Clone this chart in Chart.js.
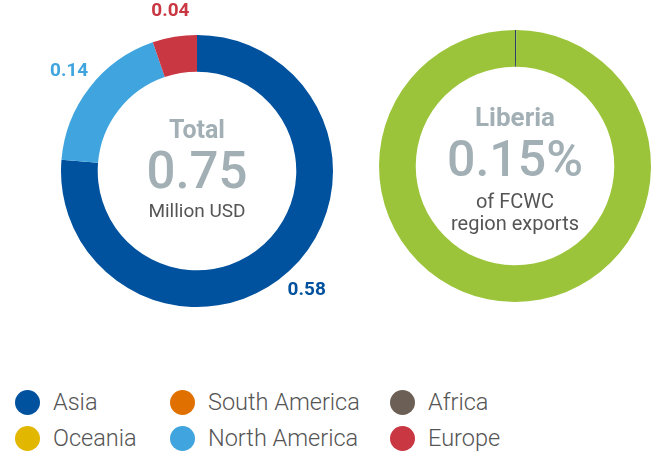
<!DOCTYPE html>
<html>
<head>
<meta charset="utf-8">
<script src="https://cdn.jsdelivr.net/npm/chart.js@4/dist/chart.umd.min.js"></script>
<style>
  html, body { margin: 0; padding: 0; background: #fff; }
  body { width: 652px; height: 454px; position: relative; overflow: hidden; font-family: Roboto, "Liberation Sans", sans-serif; }
  #left { position: absolute; left: 27px; top: 1px; }
  #right { position: absolute; left: 365px; top: 16px; }
  .lg { position: absolute; font-size: 23.5px; font-weight: 300; color: #555; line-height: 1; white-space: nowrap; }
  .lg i { position: absolute; left: -38px; top: -1px; width: 25px; height: 25px; border-radius: 50%; }
</style>
</head>
<body>
<canvas id="left" width="340" height="340"></canvas>
<canvas id="right" width="300" height="300"></canvas>
<div id="legend"></div>
<script>
"use strict";

// left donut: exports by destination (million USD)
const regions = ["Asia", "North America", "Europe"];
const values = [0.58, 0.14, 0.04];
const regionColors = ["#00519e", "#40a5de", "#c93742"];

// right donut: Liberia share of FCWC region exports (%)
const shareLabels = ["Liberia", "Rest of FCWC region"];
const shareValues = [0.15, 99.85];
const shareColors = ["#2b3f6b", "#9cc43a"];

// legend (includes regions with no trade)
const legendNames = ["Asia", "South America", "Africa", "Oceania", "North America", "Europe"];
const legendColors = ["#00519e", "#e07100", "#6c5f55", "#e2b700", "#40a5de", "#c93742"];

const GREY = "#a2b0b5";
const DARK = "#555";

// value labels just outside each arc, at mid-angle
const outerLabels = {
  id: "outerLabels",
  afterDatasetsDraw(chart) {
    const ctx = chart.ctx;
    const ds = chart.data.datasets[0];
    chart.getDatasetMeta(0).data.forEach((arc, i) => {
      const p = arc.getProps(["x", "y", "startAngle", "endAngle", "outerRadius"], true);
      const a = (p.startAngle + p.endAngle) / 2;
      const r = p.outerRadius + 26;
      ctx.save();
      ctx.font = "bold 19px Roboto";
      ctx.fillStyle = ds.labelColors[i];
      ctx.textAlign = "center";
      ctx.textBaseline = "middle";
      ctx.fillText(ds.data[i].toFixed(2), p.x + Math.cos(a) * r, p.y + Math.sin(a) * r);
      ctx.restore();
    });
  },
};

// stacked text in the hole
const centerText = {
  id: "centerText",
  afterDraw(chart, args, opts) {
    const ctx = chart.ctx;
    const arc = chart.getDatasetMeta(0).data[0];
    ctx.save();
    ctx.textAlign = "center";
    ctx.textBaseline = "middle";
    opts.lines.forEach((l) => {
      ctx.font = l.font;
      ctx.fillStyle = l.color;
      ctx.fillText(l.text, arc.x, arc.y + l.dy);
    });
    ctx.restore();
  },
};

const common = {
  responsive: false,
  animation: false,
  cutout: "73%",
  rotation: 0,
  plugins: { legend: { display: false }, tooltip: { enabled: false } },
};

new Chart(document.getElementById("left"), {
  type: "doughnut",
  data: { labels: regions,
    datasets: [{ data: values, backgroundColor: regionColors, labelColors: ["#00519e", "#40a5de", "#c93742"],
      borderWidth: 0 }] },
  options: { ...common, layout: { padding: 34 },
    plugins: { ...common.plugins, centerText: { lines: [
      { text: "Total", font: "bold 25px Roboto", color: GREY, dy: -39 },
      { text: "0.75", font: "500 51px Roboto", color: GREY, dy: 4 },
      { text: "Million USD", font: "19px Roboto", color: DARK, dy: 41 },
    ] } } },
  plugins: [outerLabels, centerText],
});

new Chart(document.getElementById("right"), {
  type: "doughnut",
  data: { labels: shareLabels,
    datasets: [{ data: shareValues, backgroundColor: shareColors, borderWidth: 0 }] },
  options: { ...common, layout: { padding: 14 },
    plugins: { ...common.plugins, centerText: { lines: [
      { text: "Liberia", font: "bold 26px Roboto", color: GREY, dy: -47 },
      { text: "0.15%", font: "500 50px Roboto", color: GREY, dy: -3 },
      { text: "of FCWC", font: "20px Roboto", color: DARK, dy: 37 },
      { text: "region exports", font: "20px Roboto", color: DARK, dy: 59 },
    ] } } },
  plugins: [centerText],
});

// html legend, 3 columns x 2 rows
const colX = [53, 208, 428];
const rowY = [391, 427];
const legend = document.getElementById("legend");
legendNames.forEach((name, i) => {
  const d = document.createElement("div");
  d.className = "lg";
  d.style.left = colX[i % 3] + "px";
  d.style.top = rowY[Math.floor(i / 3)] + "px";
  d.innerHTML = `<i style="background:${legendColors[i]}"></i>${name}`;
  legend.appendChild(d);
});
</script>
</body>
</html>
